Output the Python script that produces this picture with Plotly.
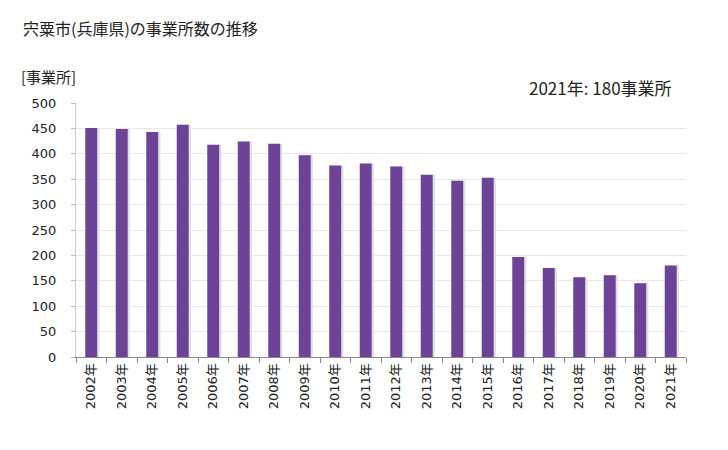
import plotly.graph_objects as go

years = ["2002年", "2003年", "2004年", "2005年", "2006年", "2007年", "2008年", "2009年", "2010年", "2011年",
         "2012年", "2013年", "2014年", "2015年", "2016年", "2017年", "2018年", "2019年", "2020年", "2021年"]
counts = [451, 449, 443, 457, 418, 424, 420, 397, 377, 381,
          375, 359, 347, 353, 197, 175, 157, 161, 145, 180]
yticks = [0, 50, 100, 150, 200, 250, 300, 350, 400, 450, 500]

title_text = "宍粟市(兵庫県)の事業所数の推移"
unit_text = "[事業所]"
note_text = "2021年: 180事業所"

font_main = "DejaVu Sans, Noto Sans CJK JP, sans-serif"

# page body has 8px margin; figure is sized to fit
OFF = 8
W, H = 720, 442
l, r, t, b = 76 - OFF, 42, 103 - OFF, 93
pw, ph = W - l - r, H - t - b

fig = go.Figure()
# shadow
fig.add_trace(go.Bar(x=years, y=counts, marker=dict(color="#e2e2e2", line=dict(width=0)),
                     width=0.47, offset=-0.2, hoverinfo="skip", showlegend=False))
fig.add_trace(go.Bar(x=years, y=counts, marker=dict(color="#6c4396", line=dict(width=0)),
                     width=0.39, offset=-0.195, showlegend=False))


def ann(text, px, py, size, anchor):
    return dict(text=text, x=(px - OFF - l) / pw, y=1 - (py - OFF - t) / ph,
                xref="paper", yref="paper", showarrow=False,
                font=dict(size=size, family="Noto Sans CJK JP", color="#222"),
                xanchor=anchor, yanchor="middle")


fig.update_layout(
    width=W, height=H,
    margin=dict(l=l, r=r, t=t, b=b),
    paper_bgcolor="white", plot_bgcolor="white",
    barmode="overlay",
    font=dict(family=font_main, size=13, color="#222"),
    xaxis=dict(type="category", tickson="boundaries", ticks="outside", ticklen=5,
               tickcolor="#888", showline=True, linecolor="#888", linewidth=1,
               tickangle=-90, tickfont=dict(size=13, color="#222"), showgrid=False),
    yaxis=dict(range=[0, 500], tickvals=yticks, ticks="outside", ticklen=4, tickcolor="#bbb",
               showline=True, linecolor="#ccc", linewidth=1, gridcolor="#e8e8e8",
               tickfont=dict(size=13, color="#222"), ticklabelstandoff=12, zeroline=False),
    annotations=[
        ann(title_text, 21, 28, 16, "left"),
        ann(unit_text, 19, 77, 15, "left"),
        ann(note_text, 674, 87, 17, "right"),
    ],
)

fig.write_html("out.html")
